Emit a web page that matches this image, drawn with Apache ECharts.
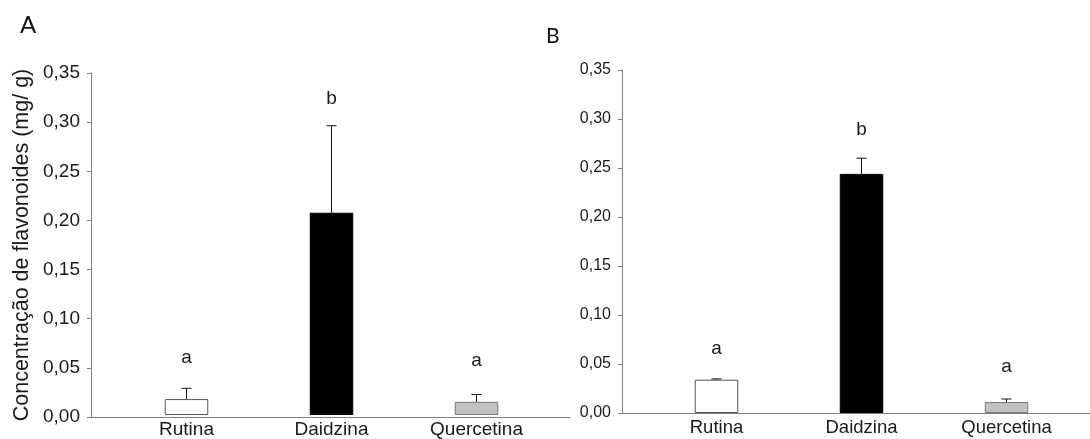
<!DOCTYPE html>
<html>
<head>
<meta charset="utf-8">
<script src="https://cdn.jsdelivr.net/npm/echarts@6/dist/echarts.min.js"></script>
<style>
  html, body { margin: 0; padding: 0; background: #fff; }
  #chart { width: 1090px; height: 439px; }
</style>
</head>
<body>
<div id="chart"></div>
<script>
// Flavonoid concentration (mg/g) per compound, two panels (A, B)
const categories = ['Rutina', 'Daidzina', 'Quercetina'];

const meansA = [0.0163, 0.207, 0.0135];
const errorsA = [0.011, 0.089, 0.0075];
const lettersA = ['a', 'b', 'a'];
const letterYA = [0.059, 0.324, 0.0552];

const meansB = [0.034, 0.244, 0.0112];
const errorsB = [0.0008, 0.016, 0.0031];
const lettersB = ['a', 'b', 'a'];
const letterYB = [0.0653, 0.289, 0.0476];

const yMin = 0, yMax = 0.35, yStep = 0.05;

const barFill = ['#ffffff', '#000000', '#c2c2c2'];
const barEdge = ['#555555', '#000000', '#7a7a7a'];

const FONT = '"Liberation Sans", Arial, sans-serif';
const fmt = v => v.toFixed(2).replace('.', ',');

// Frame grids carry the y axis and the long baseline; bar grids carry the categories.
const frames = [
  { left: 91, top: 73, width: 479, height: 344 },
  { left: 622, top: 70, width: 480, height: 343 }
];
const barGrids = [
  { left: 114, top: 73, width: 435, height: 344 },
  { left: 644, top: 70, width: 435, height: 343 }
];

const grid = [...frames, ...barGrids];

const xAxis = [
  { gridIndex: 0, type: 'value', min: 0, max: 1, axisLine: { show: true, lineStyle: { color: '#808080', width: 1 } },
    axisTick: { show: false }, axisLabel: { show: false }, splitLine: { show: false } },
  { gridIndex: 1, type: 'value', min: 0, max: 1, axisLine: { show: true, lineStyle: { color: '#808080', width: 1 } },
    axisTick: { show: false }, axisLabel: { show: false }, splitLine: { show: false } },
  { gridIndex: 2, type: 'category', data: categories, axisLine: { show: false }, axisTick: { show: false },
    axisLabel: { fontFamily: FONT, fontSize: 19, color: '#1a1a1a', margin: 5 } },
  { gridIndex: 3, type: 'category', data: categories, axisLine: { show: false }, axisTick: { show: false },
    axisLabel: { fontFamily: FONT, fontSize: 18.5, color: '#1a1a1a', margin: 5 } }
];

function valueAxis(gridIndex, fontSize, visible, name) {
  return {
    gridIndex, type: 'value', min: yMin, max: yMax, interval: yStep,
    show: visible,
    name: name || '',
    nameLocation: 'middle',
    nameRotate: 90,
    nameGap: 58,
    nameTextStyle: { fontFamily: FONT, fontSize: 21.5, color: '#1a1a1a' },
    axisLine: { show: true, lineStyle: { color: '#808080', width: 1 } },
    axisTick: { show: true, inside: false, length: 4, lineStyle: { color: '#808080' } },
    axisLabel: { fontFamily: FONT, fontSize, color: '#1a1a1a', margin: 11, formatter: fmt },
    splitLine: { show: false }
  };
}

const yAxis = [
  valueAxis(0, 19, true, 'Concentração de flavonoides (mg/ g)'),
  valueAxis(1, 16, true),
  valueAxis(2, 12, false),
  valueAxis(3, 12, false)
];

function barSeries(axisIdx, means) {
  return {
    type: 'bar', xAxisIndex: axisIdx, yAxisIndex: axisIdx, barWidth: 43.5,
    data: means.map((v, i) => ({
      value: v,
      itemStyle: { color: barFill[i], borderColor: barEdge[i], borderWidth: 1 }
    })),
    silent: true, animation: false
  };
}

function errorSeries(axisIdx, means, errors) {
  return {
    type: 'custom', xAxisIndex: axisIdx, yAxisIndex: axisIdx, silent: true, animation: false, z: 5,
    data: means.map((v, i) => [i, v, v + errors[i]]),
    renderItem: (params, api) => {
      const base = api.coord([api.value(0), api.value(1)]);
      const top = api.coord([api.value(0), api.value(2)]);
      const half = 5;
      const style = { stroke: '#111', lineWidth: 1, fill: null };
      return {
        type: 'group',
        children: [
          { type: 'line', shape: { x1: base[0], y1: base[1], x2: top[0], y2: top[1] }, style },
          { type: 'line', shape: { x1: top[0] - half, y1: top[1], x2: top[0] + half, y2: top[1] }, style }
        ]
      };
    }
  };
}

function letterSeries(axisIdx, letters, ys) {
  return {
    type: 'custom', xAxisIndex: axisIdx, yAxisIndex: axisIdx, silent: true, animation: false, z: 6,
    data: ys.map((y, i) => [i, y, letters[i]]),
    renderItem: (params, api) => {
      const p = api.coord([api.value(0), api.value(1)]);
      return {
        type: 'text',
        style: {
          x: p[0], y: p[1], text: letters[params.dataIndex],
          fontFamily: FONT, fontSize: 19, fill: '#1a1a1a',
          align: 'center', verticalAlign: 'middle'
        }
      };
    }
  };
}

const option = {
  backgroundColor: '#ffffff',
  animation: false,
  grid,
  xAxis,
  yAxis,
  series: [
    barSeries(2, meansA), errorSeries(2, meansA, errorsA), letterSeries(2, lettersA, letterYA),
    barSeries(3, meansB), errorSeries(3, meansB, errorsB), letterSeries(3, lettersB, letterYB)
  ],
  graphic: [
    { type: 'text', left: 20, top: 13, style: { text: 'A', fontFamily: 'Lato, "Noto Sans", sans-serif', fontSize: 24, fill: '#111' } },
    { type: 'text', left: 546, top: 26, style: { text: 'B', fontFamily: 'Lato, "Noto Sans", sans-serif', fontSize: 21, fill: '#111' } }
  ]
};

const chart = echarts.init(document.getElementById('chart'), null, { renderer: 'canvas' });
chart.setOption(option);
</script>
</body>
</html>
